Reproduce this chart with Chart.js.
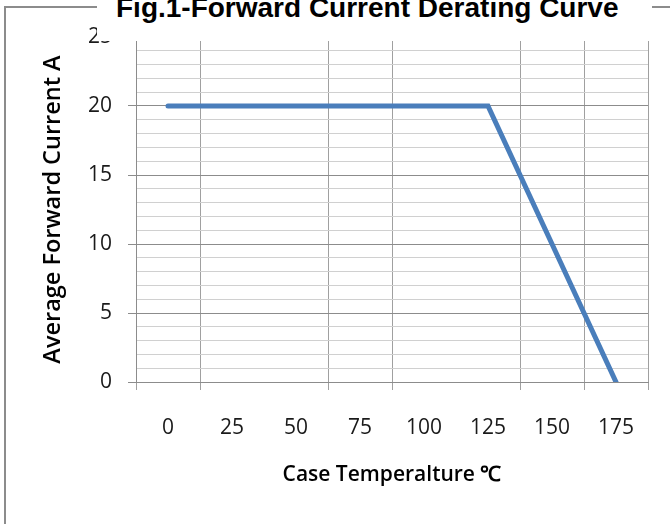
<!DOCTYPE html>
<html>
<head>
<meta charset="utf-8">
<title>Fig.1-Forward Current Derating Curve</title>
<script src="https://cdn.jsdelivr.net/npm/chart.js@4.4.1/dist/chart.umd.min.js"></script>
<style>
    html, body { margin: 0; padding: 0; background: #fff; overflow: hidden; }
    #wrap { position: relative; width: 670px; height: 524px; overflow: hidden; }
    .frame {
        position: absolute; left: 4px; top: 6px; width: 800px; height: 700px;
        border-left: 2px solid #8c8c8c; border-top: 2px solid #8c8c8c;
    }
    #chart { position: absolute; left: 0; top: 0; z-index: 1; }
    .fig-title {
        position: absolute; left: 97px; top: 0; width: 555px; height: 41px;
        background: #fff; z-index: 2;
    }
    .fig-title span {
        position: absolute; left: 19px; top: -6px; white-space: nowrap;
        font: bold 28px/28px "Liberation Sans", Arial, sans-serif; color: #000;
    }
</style>
</head>
<body>
<div id="wrap">
    <div class="frame"></div>
    <canvas id="chart" width="670" height="524"></canvas>
    <div class="fig-title"><span>Fig.1-Forward Current Derating Curve</span></div>
</div>
<script>
// Chart data
const temps = ['0', '25', '50', '75', '100', '125', '150', '175'];
const current = [20, 20, 20, 20, 20, 20, 10, 0];
const yLabels = [0, 5, 10, 15, 20, 25];

const tickFont = { family: '"Open Sans", sans-serif', size: 21 };

// vertical grid lines that are not drawn in the original picture
const missingLines = [2, 5];

function isMajor(ctx) {
    return ctx.tick && yLabels.includes(ctx.tick.value);
}

document.addEventListener('DOMContentLoaded', function() {
    const ctx = document.getElementById('chart').getContext('2d');
    new Chart(ctx, {
        type: 'line',
        data: {
            labels: temps,
            datasets: [{
                label: 'Average Forward Current A',
                data: current,
                borderColor: '#4a7ebb',
                borderWidth: 5,
                pointRadius: 0,
                tension: 0,
                fill: false,
                borderCapStyle: 'round'
            }]
        },
        options: {
            responsive: false,
            animation: false,
            devicePixelRatio: 1,
            layout: { padding: { top: 37, right: 22, bottom: 0, left: 0 } },
            plugins: {
                legend: { display: false },
                tooltip: { enabled: false }
            },
            scales: {
                x: {
                    type: 'category',
                    offset: true,
                    grid: {
                        offset: true,
                        tickLength: 8,
                        color: c => missingLines.includes(c.index) ? 'rgba(0,0,0,0)' : '#a0a0a0'
                    },
                    border: { color: '#8c8c8c' },
                    ticks: { color: '#1a1a1a', font: tickFont, padding: 25, maxRotation: 0, autoSkip: false },
                    title: {
                        display: true,
                        text: 'Case Temperalture ℃',
                        color: '#000',
                        font: { family: '"Open Sans", sans-serif', size: 21, weight: '600' },
                        padding: { top: 0, bottom: 36 }
                    },
                    afterFit: function(scale) { scale.height = 142; }
                },
                y: {
                    min: 0,
                    max: 25,
                    ticks: {
                        stepSize: 1,
                        autoSkip: false,
                        padding: 16,
                        color: '#1a1a1a',
                        font: tickFont,
                        callback: v => yLabels.includes(v) ? String(v) : ''
                    },
                    grid: {
                        tickLength: 8,
                        color: c => isMajor(c) ? '#8c8c8c' : '#d0d0d0',
                        tickColor: c => isMajor(c) ? '#8c8c8c' : 'rgba(0,0,0,0)'
                    },
                    border: { color: '#8c8c8c' },
                    title: {
                        display: true,
                        text: 'Average Forward Current A',
                        color: '#000',
                        font: { family: '"Open Sans", sans-serif', size: 23.5, weight: '600' },
                        padding: { top: 39, bottom: 0 }
                    },
                    afterFit: function(scale) { scale.width = 136; }
                }
            }
        }
    });
});
</script>
</body>
</html>
